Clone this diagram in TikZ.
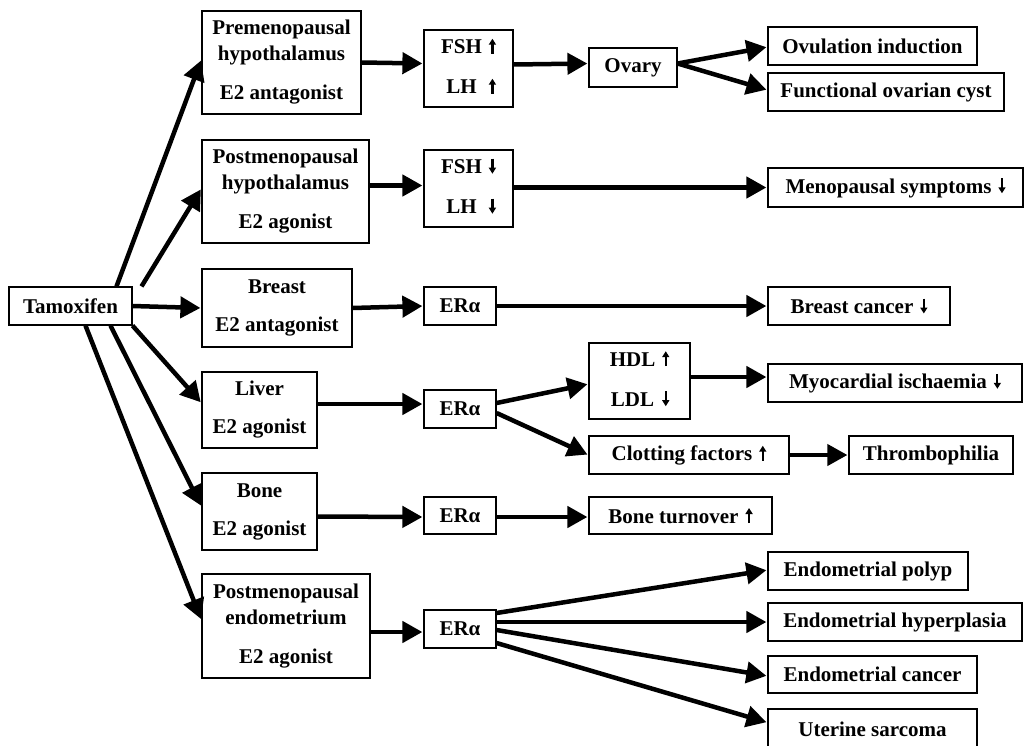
\documentclass[tikz,border=0pt]{standalone}
\usepackage{fontspec}
\setmainfont{Liberation Serif}
\usetikzlibrary{arrows.meta}
\newcommand{\uarr}{\hspace{7pt}\tikz[x=1pt,y=1pt,baseline=0pt]\draw[line width=2.2pt,-{Triangle[length=6pt,width=7pt]}] (0,0) -- (0,15);}
\newcommand{\darr}{\hspace{7pt}\tikz[x=1pt,y=1pt,baseline=0pt]\draw[line width=2.2pt,-{Triangle[length=6pt,width=7pt]}] (0,15) -- (0,0);}
\newcommand{\twoline}[4]{\begin{tabular}{@{}c@{}c@{}}#1&#2\\[14pt]#3&#4\end{tabular}}
\begin{document}
\begin{tikzpicture}[x=1pt,y=-1pt,
  box/.style={draw, line width=1.2pt, inner sep=0pt, align=center,
    font=\fontsize{21}{26}\selectfont\bfseries},
  arr/.style={line width=4.5pt, -{Triangle[length=20pt,width=21pt]}, shorten >=1pt},
]
\clip (0,0) rectangle (1032,745);
\fill[white] (0,0) rectangle (1032,745);
% column 0
\node[box, minimum width=123, minimum height=38] (tam) at (70.5,306) {Tamoxifen};
% column 1
\node[box, minimum width=159, minimum height=103] (pre) at (281.5,62.5) {Premenopausal\\hypothalamus\\[13pt]E2 antagonist};
\node[box, minimum width=167, minimum height=103] (post) at (285.5,191.5) {Postmenopausal\\hypothalamus\\[13pt]E2 agonist};
\node[box, minimum width=150, minimum height=78] (breast) at (277,308) {Breast\\[12pt]E2 antagonist};
\node[box, minimum width=115, minimum height=76] (liver) at (259.5,410) {Liver\\[12pt]E2 agonist};
\node[box, minimum width=115, minimum height=77] (bone) at (259.5,511.5) {Bone\\[12pt]E2 agonist};
\node[box, minimum width=168, minimum height=104] (endo) at (286,626) {Postmenopausal\\endometrium\\[13pt]E2 agonist};
% column 2
\node[box, minimum width=89, minimum height=77] (fsh1) at (468.5,68.5) {\twoline{FSH}{\uarr}{LH}{\uarr}};
\node[box, minimum width=89, minimum height=77] (fsh2) at (468.5,188.5) {\twoline{FSH}{\darr}{LH}{\darr}};
\node[box, minimum width=72, minimum height=38] (er1) at (460,306) {ERα};
\node[box, minimum width=72, minimum height=38] (er2) at (460,409) {ERα};
\node[box, minimum width=72, minimum height=37] (er3) at (460,515.5) {ERα};
\node[box, minimum width=72, minimum height=38] (er4) at (460,629) {ERα};
% column 3
\node[box, minimum width=88, minimum height=39] (ovary) at (633,67.5) {Ovary};
\node[box, minimum width=101, minimum height=76] (hdl) at (639.5,381) {\twoline{HDL}{\uarr}{LDL}{\darr}};
\node[box, minimum width=200, minimum height=38] (clot) at (689,455) {Clotting factors\uarr};
\node[box, minimum width=183, minimum height=37] (bt) at (680.5,515.5) {Bone turnover\uarr};
% column 4
\node[box, minimum width=209, minimum height=38] (ovul) at (872.5,46) {Ovulation induction};
\node[box, minimum width=236, minimum height=38] (func) at (886,92) {Functional ovarian cyst};
\node[box, minimum width=255, minimum height=39] (meno) at (895.5,187.5) {Menopausal symptoms\darr};
\node[box, minimum width=182, minimum height=38] (bc) at (859,306) {Breast cancer\darr};
\node[box, minimum width=254, minimum height=38] (myo) at (895,383) {Myocardial ischaemia\darr};
\node[box, minimum width=164, minimum height=38] (thr) at (931,455) {Thrombophilia};
\node[box, minimum width=200, minimum height=38] (polyp) at (868,571) {Endometrial polyp};
\node[box, minimum width=254, minimum height=38] (hyper) at (895,622) {Endometrial hyperplasia};
\node[box, minimum width=209, minimum height=37] (canc) at (872.5,674.5) {Endometrial cancer};
\node[box, minimum width=209, minimum height=41] (sarc) at (872.5,729.5) {Uterine sarcoma};
% arrows from Tamoxifen
\draw[arr] ([xshift=46pt]tam.north) -- ([yshift=3pt]pre.west);
\draw[arr] ([xshift=71pt]tam.north) -- ([yshift=3pt]post.west);
\draw[arr] (tam.east) -- (breast.west);
\draw[arr] ([xshift=62pt]tam.south) -- ([yshift=7pt]liver.west);
\draw[arr] ([xshift=40pt]tam.south) -- ([yshift=5pt]bone.west);
\draw[arr] ([xshift=15pt]tam.south) -- ([yshift=6pt]endo.west);
% row 1
\draw[arr] (pre.east) -- ([yshift=5pt]fsh1.west);
\draw[arr] ([yshift=4pt]fsh1.east) -- ([yshift=4pt]ovary.west);
\coordinate (ovs) at ([yshift=4pt]ovary.east);
\draw[arr] (ovs) -- ([yshift=-1pt]ovul.west);
\draw[arr] (ovs) -- ([yshift=2pt]func.west);
% row 2
\draw[arr] ([yshift=6pt]post.east) -- ([yshift=3pt]fsh2.west);
\draw[arr] ([yshift=1pt]fsh2.east) -- (meno.west);
% row 3
\draw[arr] (breast.east) -- (er1.west);
\draw[arr] (er1.east) -- (bc.west);
% row 4
\draw[arr] ([yshift=6pt]liver.east) -- ([yshift=5pt]er2.west);
\draw[arr] ([yshift=6pt]er2.east) -- ([yshift=-3pt]hdl.west);
\draw[arr] ([yshift=-4pt]er2.east) -- (clot.west);
\draw[arr] ([yshift=4pt]hdl.east) -- ([yshift=6pt]myo.west);
\draw[arr, line width=4pt] (clot.east) -- (thr.west);
% row 5
\draw[arr] ([yshift=-5pt]bone.east) -- ([yshift=-1.5pt]er3.west);
\draw[arr] ([yshift=-1.5pt]er3.east) -- ([yshift=-1.5pt]bt.west);
% row 6
\draw[arr] ([yshift=-6pt]endo.east) -- ([yshift=-3pt]er4.west);
\draw[arr] ([yshift=16pt]er4.east) -- ([yshift=1pt]polyp.west);
\draw[arr] ([yshift=7pt]er4.east) -- (hyper.west);
\draw[arr] ([yshift=-1pt]er4.east) -- ([yshift=-1.5pt]canc.west);
\draw[arr] ([yshift=-14pt]er4.east) -- ([yshift=7pt]sarc.west);
\end{tikzpicture}
\end{document}
